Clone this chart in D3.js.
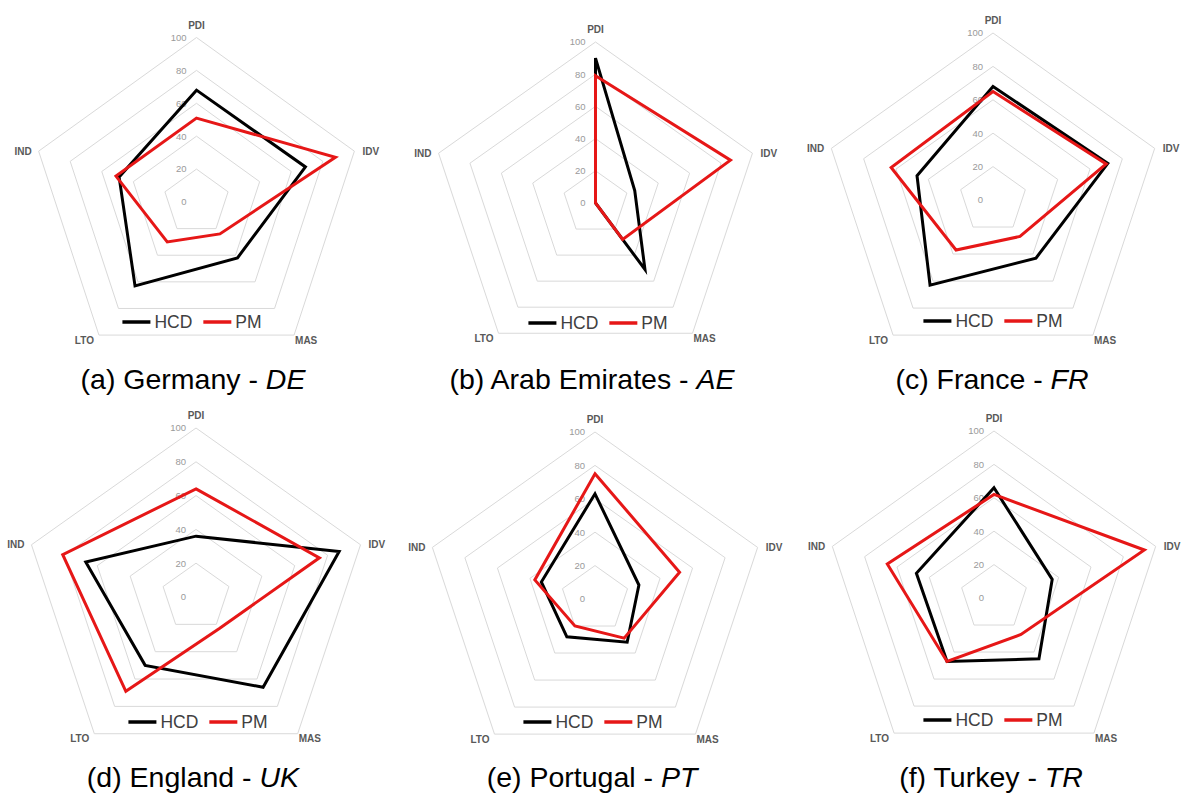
<!DOCTYPE html>
<html>
<head>
<meta charset="utf-8">
<script src="https://cdn.jsdelivr.net/npm/d3@7"></script>
<style>
  html, body { margin: 0; padding: 0; background: #fff; }
  svg { display: block; }
</style>
</head>
<body>
<svg id="chart" width="1182" height="794"></svg>
<script>
// Hofstede-style dimensions, clockwise from the top
const axes = ["PDI", "IDV", "MAS", "LTO", "IND"];
const seriesNames = ["HCD", "PM"];
const tickValues = [0, 20, 40, 60, 80, 100];

const countries = ["Germany", "Arab Emirates", "France", "England", "Portugal", "Turkey"];
const codes = ["DE", "AE", "FR", "UK", "PT", "TR"];
const letters = ["a", "b", "c", "d", "e", "f"];

// Scores per dimension (PDI, IDV, MAS, LTO, IND)
const hcdDE = [68, 69, 42, 63, 49];
const pmDE  = [51, 88, 24, 30, 51];
const hcdAE = [90, 25, 51, 0, 0];
const pmAE  = [79, 86, 28, 0, 0];
const hcdFR = [68, 71, 43, 63, 47];
const pmFR  = [65, 70, 27, 37, 63];
const hcdUK = [36, 87, 66, 50, 67];
const pmUK  = [64, 75, 23, 69, 81];
const hcdPT = [63, 27, 32, 28, 33];
const pmPT  = [75, 52, 29, 20, 37];
const hcdTR = [66, 36, 45, 47, 48];
const pmTR  = [62, 93, 27, 47, 66];

const hcdSeries = [hcdDE, hcdAE, hcdFR, hcdUK, hcdPT, hcdTR];
const pmSeries  = [pmDE, pmAE, pmFR, pmUK, pmPT, pmTR];

// Panel placement on the page
const layout = [
  { cx: 196.5, cy: 202, rx: 166, ry: 164.5, legendX: 192, legendY: 322, captionX: 193, captionY: 389 },
  { cx: 595.5, cy: 203, rx: 165, ry: 161,   legendX: 598, legendY: 323, captionX: 592, captionY: 389 },
  { cx: 993,   cy: 200, rx: 170, ry: 167,   legendX: 993, legendY: 321, captionX: 992, captionY: 389 },
  { cx: 196,   cy: 597, rx: 173, ry: 169,   legendX: 198, legendY: 722, captionX: 193, captionY: 787 },
  { cx: 595,   cy: 599, rx: 171, ry: 167,   legendX: 593, legendY: 722, captionX: 592, captionY: 787 },
  { cx: 994,   cy: 598, rx: 170, ry: 167,   legendX: 993, legendY: 720, captionX: 991, captionY: 787 }
];

const colors = { HCD: "#000000", PM: "#e61717" };

const svg = d3.select("#chart");
const angle = d3.scaleLinear().domain([0, axes.length]).range([0, 2 * Math.PI]);

// Placement of each dimension label around its outer vertex
const labelPlacement = {
  PDI: { dx: 0,  dy: -9, anchor: "middle" },
  IDV: { dx: 8,  dy: 3.5, anchor: "start" },
  MAS: { dx: 1,  dy: 8.5, anchor: "start" },
  LTO: { dx: -5, dy: 8.5, anchor: "end" },
  IND: { dx: -7, dy: 3.5, anchor: "end" }
};

const panelData = codes.map((code, i) => ({
  code,
  country: countries[i],
  letter: letters[i],
  series: [
    { name: seriesNames[0], values: hcdSeries[i] },
    { name: seriesNames[1], values: pmSeries[i] }
  ],
  ...layout[i]
}));

panelData.forEach(p => {
  const g = svg.append("g");
  const rX = d3.scaleLinear().domain([0, 100]).range([0, p.rx]);
  const rY = d3.scaleLinear().domain([0, 100]).range([0, p.ry]);
  const px = (v, k) => p.cx + rX(v) * Math.sin(angle(k));
  const py = (v, k) => p.cy - rY(v) * Math.cos(angle(k));

  const ring = d3.line()
    .x((v, k) => px(v, k))
    .y((v, k) => py(v, k))
    .curve(d3.curveLinearClosed);

  // concentric grid pentagons
  g.append("g").selectAll("path")
    .data(tickValues.filter(t => t > 0))
    .join("path")
    .attr("d", t => ring(axes.map(() => t)))
    .attr("fill", "none")
    .attr("stroke", "#d9d9d9")
    .attr("stroke-width", 1);

  // radial tick labels along the top axis
  g.append("g").selectAll("text")
    .data(tickValues)
    .join("text")
    .attr("x", p.cx - 10)
    .attr("y", t => p.cy - rY(t))
    .attr("dy", "0.35em")
    .attr("text-anchor", "end")
    .attr("font-family", "Liberation Sans, Arial, sans-serif")
    .attr("font-size", 9.5)
    .attr("fill", "#9a9a9a")
    .text(t => t);

  // data polygons
  g.append("g").selectAll("path")
    .data(p.series)
    .join("path")
    .attr("d", s => ring(s.values))
    .attr("fill", "none")
    .attr("stroke", s => colors[s.name])
    .attr("stroke-width", 3)
    .attr("stroke-linejoin", "miter");

  // dimension labels
  g.append("g").selectAll("text")
    .data(axes)
    .join("text")
    .attr("x", (a, k) => px(100, k) + labelPlacement[a].dx)
    .attr("y", (a, k) => py(100, k) + labelPlacement[a].dy)
    .attr("text-anchor", a => labelPlacement[a].anchor)
    .attr("font-family", "Liberation Sans, Arial, sans-serif")
    .attr("font-size", 10)
    .attr("font-weight", "bold")
    .attr("fill", "#595959")
    .text(a => a);

  // legend
  const leg = g.append("g");
  let x = 0;
  seriesNames.forEach((name, k) => {
    if (k > 0) x += 11;
    leg.append("line")
      .attr("x1", x).attr("x2", x + 28)
      .attr("y1", 0).attr("y2", 0)
      .attr("stroke", colors[name])
      .attr("stroke-width", 3.5);
    x += 32;
    const t = leg.append("text")
      .attr("x", x).attr("y", 6.3)
      .attr("font-family", "Liberation Sans, Arial, sans-serif")
      .attr("font-size", 17.5)
      .attr("fill", "#404040")
      .text(name);
    x += t.node().getComputedTextLength();
  });
  leg.attr("transform", `translate(${p.legendX - x / 2},${p.legendY})`);

  // caption
  const cap = g.append("text")
    .attr("x", p.captionX)
    .attr("y", p.captionY)
    .attr("text-anchor", "middle")
    .attr("font-family", "Liberation Sans, Arial, sans-serif")
    .attr("font-size", 28.5)
    .attr("fill", "#000");
  cap.append("tspan").text(`(${p.letter}) ${p.country} - `);
  cap.append("tspan").attr("font-style", "italic").text(p.code);
});
</script>
</body>
</html>
